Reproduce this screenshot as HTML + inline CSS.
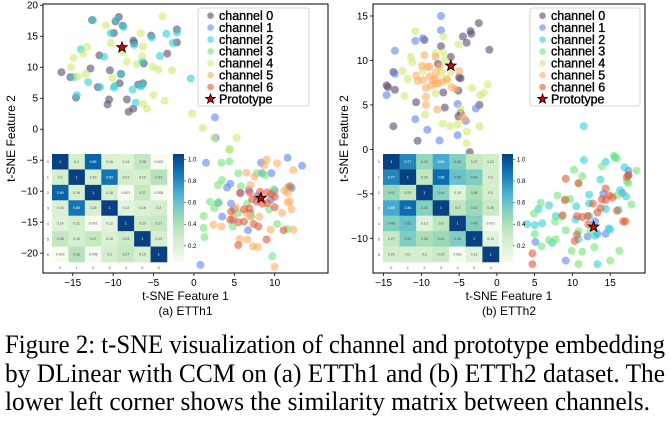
<!DOCTYPE html>
<html><head><meta charset="utf-8">
<style>
html,body{margin:0;padding:0;background:#fff;}
body{width:671px;height:417px;overflow:hidden;position:relative;}
svg text{font-family:"Liberation Sans",sans-serif;}
svg text.cap{font-family:"Liberation Serif",serif;font-size:26px;fill:#000;}
</style></head>
<body>
<svg id="fig" width="671" height="417">
<g>
<text class="cap" x="5" y="353" textLength="660" lengthAdjust="spacingAndGlyphs">Figure 2: t-SNE visualization of channel and prototype embedding</text>
<text class="cap" x="5" y="382" textLength="660" lengthAdjust="spacingAndGlyphs">by DLinear with CCM on (a) ETTh1 and (b) ETTh2 dataset. The</text>
<text class="cap" x="5" y="410" textLength="645" lengthAdjust="spacingAndGlyphs">lower left corner shows the similarity matrix between channels.</text>
</g>
</svg>
<script>
const channelNames=["channel 0","channel 1","channel 2","channel 3","channel 4","channel 5","channel 6"];
const channelColors=["#5a4a6e","#5f86ef","#2fd0d6","#6fe676","#d0e870","#fdae62","#e05a3a"];
const xTicksA=[-15,-10,-5,0,5,10];
const yTicksA=[20,15,10,5,0,-5,-10,-15,-20];
const xTicksB=[-15,-10,-5,0,5,10,15];
const yTicksB=[15,10,5,0,-5,-10];
const cbarTicks=[1.0,0.8,0.6,0.4,0.2];
const ptsA0=[[-12.6,17.6],[-9.7,17.4],[-9.3,18.1],[-8.8,16.7],[-9.9,15.5],[-7.5,14.3],[-7.4,13.9],[-5.3,15.1],[-3.3,12.2],[-2.1,14.0],[-2.1,16.1],[-11.7,11.9],[-16.4,9.2],[-15.3,8.4],[-14.6,5.1],[-11.9,6.8],[-10.4,9.5],[-9.0,8.9],[-9.2,7.4],[-6.9,7.2],[-6.3,7.4],[-6.2,10.6],[-10.5,4.8],[-10.7,4.0],[-8.3,4.8],[-7.5,3.3],[-8.1,2.8],[-12.8,9.8]];
const ptsA1=[[2.6,1.9],[2.7,-1.4],[1.5,-5.4],[4.5,-8.8],[4.1,-9.4],[5.8,-10.3],[6.8,-9.8],[8.3,-5.4],[8.4,-7.1],[9.6,-7.1],[11.6,-4.6],[13.4,-5.9],[12.1,-9.5],[10.0,-9.9],[3.0,-11.9],[4.6,-12.0],[5.0,-12.9],[6.7,-16.3],[7.8,-10.8],[0.8,-21.9],[4.8,-14.6],[7.0,-13.5],[3.5,-14.1],[9.5,-11.4]];
const ptsA2=[[-12.5,17.6],[-10.3,15.5],[-9.6,17.6],[-8.7,16.5],[-7.4,13.6],[-5.2,14.8],[-3.4,15.4],[-2.1,15.6],[-2.6,13.9],[-14.0,12.9],[-11.1,11.7],[-13.1,7.6],[-14.5,5.5],[-14.9,8.4],[-9.8,7.0],[-9.9,6.7],[-9.1,8.9],[-7.6,6.4],[-6.6,6.9],[-7.2,4.3],[-6.4,7.1],[-4.2,11.8],[-0.4,8.2],[-6.4,10.9],[-11.6,6.8]];
const ptsA3=[[4.4,-3.3],[3.4,-5.4],[4.4,-5.2],[5.5,-7.1],[3.5,-8.2],[3.0,-9.0],[2.0,-11.7],[2.5,-12.7],[3.1,-11.8],[7.8,-7.1],[8.8,-7.4],[5.5,-13.5],[9.9,-9.7],[9.3,-12.9],[11.6,-9.4],[11.6,-16.1],[10.3,-15.3],[9.7,-20.5],[4.8,-15.7],[1.2,-15.9],[1.3,-17.4],[1.2,-14.0],[7.1,-14.1],[6.6,-12.0],[5.8,-9.2]];
const ptsA4=[[-3.9,18.2],[-10.9,16.8],[-6.6,15.5],[-10.3,13.9],[-6.3,13.3],[-8.8,12.4],[-13.7,12.2],[-14.9,11.5],[-15.2,10.0],[-14.4,8.5],[-13.4,8.9],[-13.2,13.3],[-8.3,10.9],[-7.1,10.5],[-6.4,11.8],[-5.1,10.1],[-4.4,9.6],[-2.7,9.5],[-5.0,5.5],[-3.6,4.6],[-5.8,3.3],[-6.3,4.1],[-10.1,8.3],[-0.2,2.5],[1.1,0.2],[2.5,-1.4],[4.4,-3.2],[5.3,-1.4]];
const ptsA5=[[9.0,-4.9],[10.3,-5.5],[12.3,-6.6],[8.7,-5.8],[6.5,-7.0],[7.0,-9.0],[7.5,-7.7],[11.2,-9.9],[11.9,-11.7],[11.6,-11.8],[12.1,-12.9],[12.3,-16.2],[10.9,-13.5],[6.5,-13.5],[7.0,-14.0],[8.1,-14.1],[4.9,-14.2],[2.4,-15.4],[3.4,-15.7],[5.7,-17.7],[6.6,-17.8],[7.3,-18.9],[7.9,-19.0],[9.5,-16.2],[10.0,-22.2],[5.2,-12.6],[11.6,-10.3]];
const ptsA6=[[5.7,-10.3],[6.9,-10.2],[8.2,-10.1],[9.1,-10.2],[9.6,-10.5],[10.0,-10.9],[9.1,-11.9],[8.5,-12.0],[7.8,-11.7],[7.2,-11.3],[6.2,-12.9],[4.6,-13.3],[4.5,-14.6],[5.5,-15.0],[7.4,-15.3],[8.0,-15.7],[9.0,-17.8],[5.5,-18.7],[11.1,-16.3],[11.9,-9.2],[10.0,-12.6],[6.2,-14.9],[6.9,-12.8]];
const protoA=[[-8.9,13.2],[8.3,-11.1]];
const ptsB0=[[-2.4,14.2],[-4.5,12.7],[-4.0,12.0],[-3.5,13.3],[-3.4,13.0],[-1.0,11.2],[-6.1,10.4],[-7.4,11.6],[-9.6,12.3],[-13.7,8.7],[-14.6,7.2],[-14.4,7.0],[-13.5,6.7],[-10.7,5.3],[-7.1,6.4],[-5.1,6.6],[-5.0,8.1],[-4.8,8.0],[-6.9,4.7],[-5.1,3.7],[-4.8,4.1],[-2.3,5.0],[-13.7,2.6],[-10.5,0.97],[-3.6,-0.3],[-7.8,9.6]];
const ptsB1=[[-7.4,15.0],[-7.4,13.4],[-9.8,12.5],[-10.8,12.2],[-13.5,11.1],[-13.5,8.5],[-14.6,6.1],[-10.8,3.4],[-9.2,2.2],[-7.6,1.0],[-5.2,5.1],[-4.1,3.2],[-5.2,1.6],[-2.8,4.6],[17.4,-2.4],[17.4,-2.9],[14.1,-5.0],[13.0,-8.1],[13.3,-9.5],[12.0,-9.8],[9.1,-12.5],[5.1,-10.4],[16.6,-4.9],[14.4,-9.5]];
const ptsB2=[[11.5,2.6],[11.5,-1.2],[13.7,-3.4],[14.4,-1.4],[15.6,-0.9],[16.9,-2.0],[16.3,-4.6],[17.1,-5.3],[16.1,-6.8],[12.2,-5.1],[14.4,-6.7],[15.0,-9.0],[12.2,-6.1],[10.5,-6.4],[10.4,-7.9],[13.0,-9.7],[14.8,-8.9],[10.8,-10.1],[6.9,-6.3],[7.8,-7.5],[6.0,-8.3],[7.3,-10.5],[5.5,-6.7],[5.0,-8.5],[12.2,-7.5],[13.3,-12.9],[4.0,-8.4]];
const ptsB3=[[15.5,-0.7],[15.9,-1.0],[17.2,-3.6],[18.5,-2.4],[17.4,-3.8],[15.9,-5.2],[17.8,-6.2],[13.9,-1.9],[11.3,-3.0],[10.2,-2.3],[10.8,-3.8],[9.7,-5.6],[8.0,-5.2],[5.8,-6.0],[9.1,-5.6],[8.6,-7.6],[7.7,-8.1],[6.9,-10.2],[5.9,-10.9],[5.0,-9.5],[4.9,-7.2],[7.8,-10.1],[9.9,-11.4],[10.8,-9.2],[11.3,-11.5],[10.8,-12.9],[15.0,-12.5],[16.2,-11.4],[12.9,-11.0],[9.1,-9.1],[12.4,-9.1]];
const ptsB4=[[-10.8,13.3],[-7.1,12.7],[-5.1,11.8],[-11.4,10.4],[-12.5,8.8],[-11.2,9.8],[-11.8,7.9],[-9.8,8.8],[-8.1,10.8],[-7.1,10.9],[-6.9,10.0],[-7.3,8.6],[-12.2,6.0],[-9.5,3.9],[-7.2,2.9],[-6.2,2.6],[-5.2,2.8],[-3.3,6.9],[-2.2,6.1],[-1.7,6.4],[-1.2,7.3],[-2.3,2.6],[-4.0,0.7],[-4.0,2.0],[-6.1,8.7],[-4.8,4.6],[-8.1,6.3],[-6.6,7.8]];
const ptsB5=[[-9.6,10.6],[-8.1,10.4],[-9.9,9.4],[-9.2,9.3],[-8.1,8.6],[-8.9,8.2],[-8.4,7.8],[-8.2,7.4],[-7.8,7.4],[-8.7,7.2],[-9.4,6.9],[-10.5,7.7],[-8.9,9.3],[-7.6,9.3],[-5.0,8.8],[-6.6,7.9],[-6.0,7.0],[-5.5,6.8],[-9.4,5.0],[-7.9,4.5],[-4.6,3.7],[-4.4,3.5],[-9.4,5.9],[-10.7,8.3],[-9.8,7.8],[-8.1,7.9],[-7.2,7.6]];
const ptsB6=[[9.1,-3.3],[10.8,-3.8],[9.0,-5.7],[11.3,-7.6],[10.6,-7.5],[12.0,-7.5],[12.7,-6.1],[13.7,-6.6],[14.4,-5.7],[13.9,-5.6],[13.3,-7.1],[14.4,-4.4],[15.3,-5.4],[15.9,-6.9],[14.9,-5.2],[16.7,-8.1],[17.0,-8.1],[17.4,-2.9],[17.2,-3.1],[10.3,-10.3],[4.7,-11.7],[4.7,-12.9],[12.1,-8.4],[8.7,-7.4],[10.6,-9.6]];
const protoB=[[-6.1,9.4],[12.8,-8.7]];
const simA=[[1,0.2,0.89,0.16,0.14,0.28,0.002],[0.2,1,0.19,0.83,0.21,0.19,0.33],[0.89,0.19,1,0.18,0.001,0.27,0.008],[0.16,0.83,0.18,1,0.12,0.16,0.2],[0.14,0.21,0.001,0.12,1,0.23,0.27],[0.28,0.19,0.27,0.16,0.23,1,0.19],[0.002,0.33,0.008,0.2,0.27,0.19,1]];
const simB=[[1,0.77,0.42,0.65,0.48,0.27,0.21],[0.77,1,0.29,0.86,0.55,0.49,0.2],[0.42,0.29,1,0.46,0.13,0.36,0.2],[0.65,0.86,0.46,1,0.3,0.41,0.26],[0.48,0.55,0.13,0.3,1,0.48,0.001],[0.27,0.49,0.36,0.41,0.48,1,0.13],[0.21,0.2,0.2,0.26,0.001,0.13,1]];

const NS="http://www.w3.org/2000/svg";
const svg=document.getElementById('fig');
function mk(tag,attrs,parent,txt){const e=document.createElementNS(NS,tag);for(const k in attrs)e.setAttribute(k,attrs[k]);if(txt!==undefined)e.textContent=txt;(parent||svg).appendChild(e);return e;}
const gnbu=["#f7fcf0","#e0f3db","#ccebc5","#a8ddb5","#7bccc4","#4eb3d3","#2b8cbe","#0868ac","#084081"];
function hex(c){return [1,3,5].map(i=>parseInt(c.substr(i,2),16));}
function cmap(v){v=Math.max(0,Math.min(1,v));const t=v*8;const i=Math.min(7,Math.floor(t));const f=t-i;const a=hex(gnbu[i]),b=hex(gnbu[i+1]);return "rgb("+a.map((x,k)=>Math.round(x+(b[k]-x)*f)).join(",")+")";}
function starPath(cx,cy,R){let d="";for(let i=0;i<10;i++){const r=i%2?R*0.42:R;const a=-Math.PI/2+i*Math.PI/5;d+=(i?"L":"M")+(cx+r*Math.cos(a)).toFixed(2)+","+(cy+r*Math.sin(a)).toFixed(2);}return d+"Z";}

function panel(cfg){
  const g=mk('g',{});
  
  
  const X=v=>cfg.x0+(v-cfg.xmin)/(cfg.xmax-cfg.xmin)*(cfg.x1-cfg.x0);
  const Y=v=>cfg.y1-(v-cfg.ymin)/(cfg.ymax-cfg.ymin)*(cfg.y1-cfg.y0);
  cfg.series.forEach((pts,ci)=>{
    const sg=mk('g',{},g);
    
    
    pts.forEach(p=>{const c=mk('circle',{cx:X(p[0]).toFixed(1),cy:Y(p[1]).toFixed(1),r:4,fill:channelColors[ci],'fill-opacity':0.6},sg);
      
      });
  });
  cfg.proto.forEach(p=>{const s=mk('path',{d:starPath(X(p[0]),Y(p[1]),5.5),fill:'#e00000',stroke:'#000','stroke-width':0.9},g);
    
    });
  const hm=mk('g',{},g);
  
  
  const n=cfg.sim.length,cw=(cfg.hx1-cfg.hx0)/n,chh=(cfg.hy1-cfg.hy0)/n;
  cfg.sim.forEach((row,i)=>row.forEach((v,j)=>{
    const r=mk('rect',{x:(cfg.hx0+j*cw).toFixed(2),y:(cfg.hy0+i*chh).toFixed(2),width:(cw+0.3).toFixed(2),height:(chh+0.3).toFixed(2),fill:cmap(v)},hm);
    
    
    const t=mk('text',{x:(cfg.hx0+(j+0.5)*cw).toFixed(1),y:(cfg.hy0+(i+0.5)*chh+1.2).toFixed(1),'font-size':3.5,'text-anchor':'middle',fill:v>0.6?'#fff':'#555'},hm,String(v));
    
    
  }));
  for(let k=0;k<n;k++){
    mk('text',{x:(cfg.hx0+(k+0.5)*cw).toFixed(1),y:cfg.hy1+7,'font-size':4,'text-anchor':'middle',fill:'#555'},hm,String(k));
    mk('text',{x:cfg.hx0-3,y:(cfg.hy0+(k+0.5)*chh+1.5).toFixed(1),'font-size':4,'text-anchor':'end',fill:'#555'},hm,String(k));
  }
  const gid='cb'+cfg.name;
  const defs=mk('defs',{},g);const lg=mk('linearGradient',{id:gid,x1:0,y1:1,x2:0,y2:0},defs);
  for(let k=0;k<=8;k++)mk('stop',{offset:k/8,'stop-color':gnbu[k]},lg);
  const cb=mk('rect',{x:cfg.cbx,y:cfg.hy0,width:11,height:cfg.hy1-cfg.hy0,fill:'url(#'+gid+')'},g);
  
  
  const CY=v=>cfg.hy1-(v-cfg.cbmin)/(cfg.cbmax-cfg.cbmin)*(cfg.hy1-cfg.hy0);
  cbarTicks.forEach(v=>{mk('line',{x1:cfg.cbx+11,x2:cfg.cbx+13,y1:CY(v),y2:CY(v),stroke:'#000','stroke-width':0.5},g);
    const t=mk('text',{x:cfg.cbx+15,y:CY(v)+2,'font-size':6,fill:'#000'},g,v.toFixed(1));
    
    });
  const fr=mk('rect',{x:cfg.x0,y:cfg.y0,width:cfg.x1-cfg.x0,height:cfg.y1-cfg.y0,fill:'none',stroke:'#000','stroke-width':1},g);
  
  
  cfg.xt.forEach(v=>{const x=X(v);mk('line',{x1:x,x2:x,y1:cfg.y1,y2:cfg.y1+3,stroke:'#000','stroke-width':0.8},g);
    const t=mk('text',{x:x,y:cfg.y1+13,'font-size':10,'text-anchor':'middle'},g,v<0?'\u2212'+(-v):String(v));
    
    });
  cfg.yt.forEach(v=>{const y=Y(v);mk('line',{x1:cfg.x0-3,x2:cfg.x0,y1:y,y2:y,stroke:'#000','stroke-width':0.8},g);
    const t=mk('text',{x:cfg.x0-5,y:y+3.5,'font-size':10,'text-anchor':'end'},g,v<0?'\u2212'+(-v):String(v));
    
    });
  const xl=mk('text',{x:(cfg.x0+cfg.x1)/2,y:300,'font-size':12,'text-anchor':'middle'},g,'t-SNE Feature 1');
  
  
  const yl=mk('text',{x:0,y:0,'font-size':12,'text-anchor':'middle',transform:'translate('+cfg.ylx+','+((cfg.y0+cfg.y1)/2)+') rotate(-90)'},g,'t-SNE Feature 2');
  
  
  const st=mk('text',{x:(cfg.x0+cfg.x1)/2,y:315,'font-size':12,'text-anchor':'middle'},g,cfg.sub);
  
  
  const lgd=mk('g',{},g);
  
  
  mk('rect',{x:cfg.lx,y:8,width:cfg.lw,height:98,fill:'#fff','fill-opacity':0.85,stroke:'#ccc','stroke-width':0.8,rx:2},lgd);
  channelNames.forEach((nm,i)=>{const y=15.7+i*11.9;
    mk('circle',{cx:cfg.lx+12.5,cy:y,r:3.3,fill:channelColors[i],'fill-opacity':0.6},lgd);
    const t=mk('text',{x:cfg.lx+21,y:y+4.3,'font-size':12.5,fill:'#000',stroke:'#000','stroke-width':0.35},lgd,nm);
    
    });
  const py=15.7+7*11.9;
  mk('path',{d:starPath(cfg.lx+12.5,py,5),fill:'#e00000',stroke:'#000','stroke-width':0.8},lgd);
  const pt=mk('text',{x:cfg.lx+21,y:py+4.3,'font-size':12.5,stroke:'#000','stroke-width':0.35},lgd,'Prototype');
  
  
}
panel({name:'panel-etth1',x0:43,x1:328,y0:4,y1:273,xmin:-18.68,xmax:16.6,ymin:-23.2,ymax:20.2,
  series:[ptsA0,ptsA1,ptsA2,ptsA3,ptsA4,ptsA5,ptsA6],proto:protoA,sim:simA,
  hx0:52,hx1:167,hy0:154,hy1:262,cbx:173,cbmin:0.05,cbmax:1.05,xt:xTicksA,yt:yTicksA,ylx:15,sub:'(a) ETTh1',lx:198,lw:111});
panel({name:'panel-etth2',x0:373,x1:645,y0:4,y1:273,xmin:-16.4,xmax:19.6,ymin:-13.9,ymax:16.35,
  series:[ptsB0,ptsB1,ptsB2,ptsB3,ptsB4,ptsB5,ptsB6],proto:protoB,sim:simB,
  hx0:383,hx1:499,hy0:154,hy1:262,cbx:502,cbmin:0.05,cbmax:1.05,xt:xTicksB,yt:yTicksB,ylx:348,sub:'(b) ETTh2',lx:530,lw:110});
</script>
</body></html>
